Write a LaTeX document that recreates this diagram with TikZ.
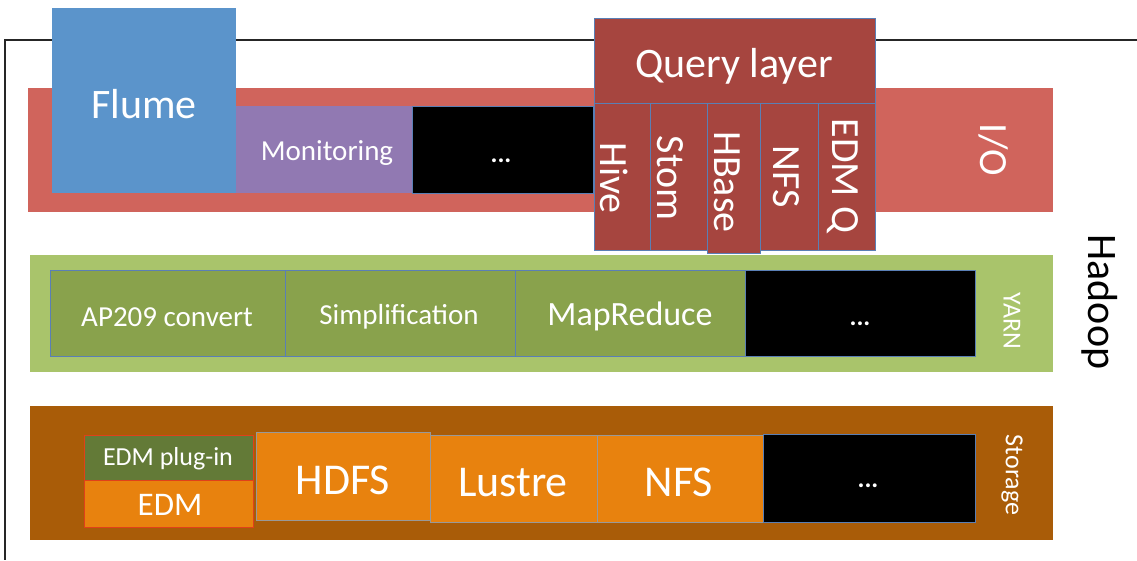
\documentclass[tikz,border=0pt]{standalone}
\usepackage{fontspec}
\setmainfont{Carlito}
\definecolor{ioRed}{HTML}{D0645C}
\definecolor{flumeBlue}{HTML}{5B94CB}
\definecolor{monPurple}{HTML}{9179B2}
\definecolor{qRed}{HTML}{A6453F}
\definecolor{yarnGreen}{HTML}{A9C46B}
\definecolor{olive}{HTML}{89A24C}
\definecolor{stBrown}{HTML}{A95C08}
\definecolor{stOrange}{HTML}{E8820E}
\definecolor{plugGreen}{HTML}{637A37}
\definecolor{edgeBlue}{HTML}{5A7FB5}
\definecolor{edgeRed}{HTML}{E0401A}
\newcommand{\fs}[1]{\fontsize{#1}{#1}\selectfont}
\tikzset{
  band/.style={fill=#1, draw=none, anchor=north west, inner sep=0pt},
  box/.style={fill=#1, draw=edgeBlue, line width=0.8pt, anchor=north west, inner sep=0pt, text=white},
  lbl/.style={text=white, inner sep=0pt},
  dots/.style={text=white, inner sep=0pt, font=\bfseries\fs{26}},
}
\begin{document}
\begin{tikzpicture}[x=1pt,y=-1pt]
\useasboundingbox (0,0) rectangle (1137,560);
\coordinate (fr1) at (1137,40);
\coordinate (fr2) at (5,40);
\coordinate (fr3) at (5,560);
\draw[line width=1.4pt, black!85] (fr1) -- (fr2) -- (fr3);
% bands
\node[band=ioRed, minimum width=1025pt, minimum height=124pt] (io) at (28,88) {};
\node[band=yarnGreen, minimum width=1023pt, minimum height=117pt] (yarn) at (30,255) {};
\node[band=stBrown, minimum width=1023pt, minimum height=134pt] (storage) at (30,406) {};
% IO layer
\node[box=flumeBlue, draw=none, minimum width=184pt, minimum height=185pt] (flume) at (52,8) {};
\node[lbl, font=\fs{42}] at (144,104) {Flume};
\node[box=monPurple, draw=none, minimum width=176pt, minimum height=87pt] (mon) at (236,106) {};
\node[lbl, font=\fs{29}] at (327,153) {Monitoring};
\node[box=black, minimum width=181pt, minimum height=87pt] (iodots) at (412,106) {};
\node[dots] at (501,161) {...};
\node[box=qRed, minimum width=281pt, minimum height=85pt] (query) at (594,18) {};
\node[lbl, font=\fs{42}] at (734,66) {Query layer};
\node[box=qRed, minimum width=56pt, minimum height=147pt] (hive) at (594,103) {};
\node[box=qRed, minimum width=57pt, minimum height=147pt] (stom) at (650,103) {};
\node[box=qRed, minimum width=53pt, minimum height=150pt] (hbase) at (707,103) {};
\node[box=qRed, minimum width=58pt, minimum height=147pt] (nfsq) at (760,103) {};
\node[box=qRed, minimum width=57pt, minimum height=147pt] (edmq) at (818,103) {};
\begin{scope}[every node/.style={lbl, rotate=-90, font=\fs{40}}]
\node at (614,178) {Hive};
\node at (670,178) {Stom};
\node at (727,182) {HBase};
\node at (786,177) {NFS};
\node at (843,176) {EDM Q};
\node[font=\fs{40}] at (994,150) {I/O};
\end{scope}
\node[rotate=-90, inner sep=0pt, font=\fs{42}] (hadoop) at (1100,302) {Hadoop};
% YARN layer
\begin{scope}[every node/.append style={minimum height=86pt}]
\node[box=olive, minimum width=235pt] (ap) at (50,270) {};
\node[box=olive, minimum width=230pt] (simp) at (285,270) {};
\node[box=olive, minimum width=230pt] (mr) at (515,270) {};
\node[box=black, minimum width=230pt] (ydots) at (745,270) {};
\end{scope}
\node[lbl, font=\fs{29}] at (167,317) {AP209 convert};
\node[lbl, font=\fs{29}] at (399,317) {Simplification};
\node[lbl, font=\fs{34}] at (630,316) {MapReduce};
\node[dots] at (860,324) {...};
\node[lbl, rotate=-90, font=\fs{26}] at (1012,321) {YARN};
% Storage layer
\node[box=plugGreen, draw=edgeRed, line width=1.2pt, minimum width=169pt, minimum height=45pt] (plug) at (84,435) {};
\node[lbl, font=\fs{26}] at (168,459) {EDM plug-in};
\node[box=stOrange, draw=edgeRed, line width=1.2pt, minimum width=169pt, minimum height=47pt] (edm) at (84,480) {};
\node[lbl, font=\fs{33}] at (170,505) {EDM};
\node[box=stOrange, draw=gray!80, minimum width=174pt, minimum height=88pt] (hdfs) at (256,432) {};
\node[lbl, font=\fs{44}] at (343,480) {HDFS};
\node[box=stOrange, draw=gray!80, minimum width=167pt, minimum height=87pt] (lustre) at (430,435) {};
\node[lbl, font=\fs{44}] at (513,483) {Lustre};
\node[box=stOrange, draw=gray!80, minimum width=166pt, minimum height=87pt] (nfs) at (597,435) {};
\node[lbl, font=\fs{44}] at (679,482) {NFS};
\node[box=black, minimum width=212pt, minimum height=88pt] (sdots) at (763,434) {};
\node[dots] at (868,486) {...};
\node[lbl, rotate=-90, font=\fs{26}] at (1012,475) {Storage};
\end{tikzpicture}
\end{document}
